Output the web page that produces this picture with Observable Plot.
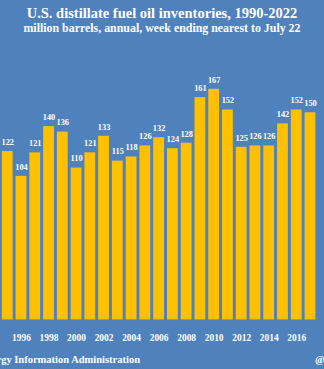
<!DOCTYPE html>
<html><head><meta charset="utf-8">
<script src="https://cdn.jsdelivr.net/npm/d3@7"></script>
<script src="https://cdn.jsdelivr.net/npm/@observablehq/plot@0.6"></script>
<style>
html,body{margin:0;padding:0;width:324px;height:369px;overflow:hidden;background:#4f81bd;}
body{position:relative;font-family:"Liberation Serif",serif;color:#fff;}
#title{position:absolute;left:0;width:324px;top:5px;text-align:center;font-weight:bold;font-size:14.5px;white-space:nowrap;}
#subtitle{position:absolute;left:0;width:324px;top:21px;text-align:center;font-weight:bold;font-size:11.9px;white-space:nowrap;}
#chart{position:absolute;left:-8.35px;top:0;}
#source{position:absolute;right:184px;top:353.5px;font-weight:bold;font-size:10.5px;white-space:nowrap;}
#handle{position:absolute;left:315px;top:353.5px;font-weight:bold;font-size:10.5px;white-space:nowrap;}
</style></head>
<body>
<div id="title">U.S. distillate fuel oil inventories, 1990-2022</div>
<div id="subtitle">million barrels, annual, week ending nearest to July 22</div>
<div id="chart"></div>
<div id="source">Source: U.S. Energy Information Administration</div>
<div id="handle">@JKempEnergy</div>
<script>
const years = [1995,1996,1997,1998,1999,2000,2001,2002,2003,2004,2005,2006,2007,2008,2009,2010,2011,2012,2013,2014,2015,2016,2017];
const values = [122,104,121,140,136,110,121,133,115,118,126,132,124,128,161,167,152,125,126,126,142,152,150];
const xTicks = [1996,1998,2000,2002,2004,2006,2008,2010,2012,2014,2016];
const data = years.map((y,i)=>({year:y,value:values[i]}));
const H = 369, mTop = 40, mBottom = 44;
const yMax = (H - mTop - mBottom)/1.405;
const plot = Plot.plot({
  width: 338.1, height: H,
  marginLeft: 0, marginRight: 0, marginTop: mTop, marginBottom: mBottom,
  style: {background:"transparent", color:"#fff", fontFamily:"'Liberation Serif', serif", overflow:"visible"},
  x: {type:"band", domain: years, padding:0.22, paddingOuter:0.11, axis:null},
  y: {domain:[0,yMax], axis:null},
  marks: [
    Plot.barY(data, {x:"year", y:"value", fill:"#ffc000"}),
    Plot.text(data, {x:"year", y:"value", text:d=>String(d.value), dy:-9.5, fill:"#fff", fontSize:8.5, fontWeight:"bold"}),
    Plot.axisX({ticks: xTicks, tickSize:0, tickPadding:14.5, fontSize:9.6, fontWeight:"bold", label:null, tickFormat:d=>String(d)})
  ]
});
document.getElementById("chart").appendChild(plot);
</script>
</body></html>
